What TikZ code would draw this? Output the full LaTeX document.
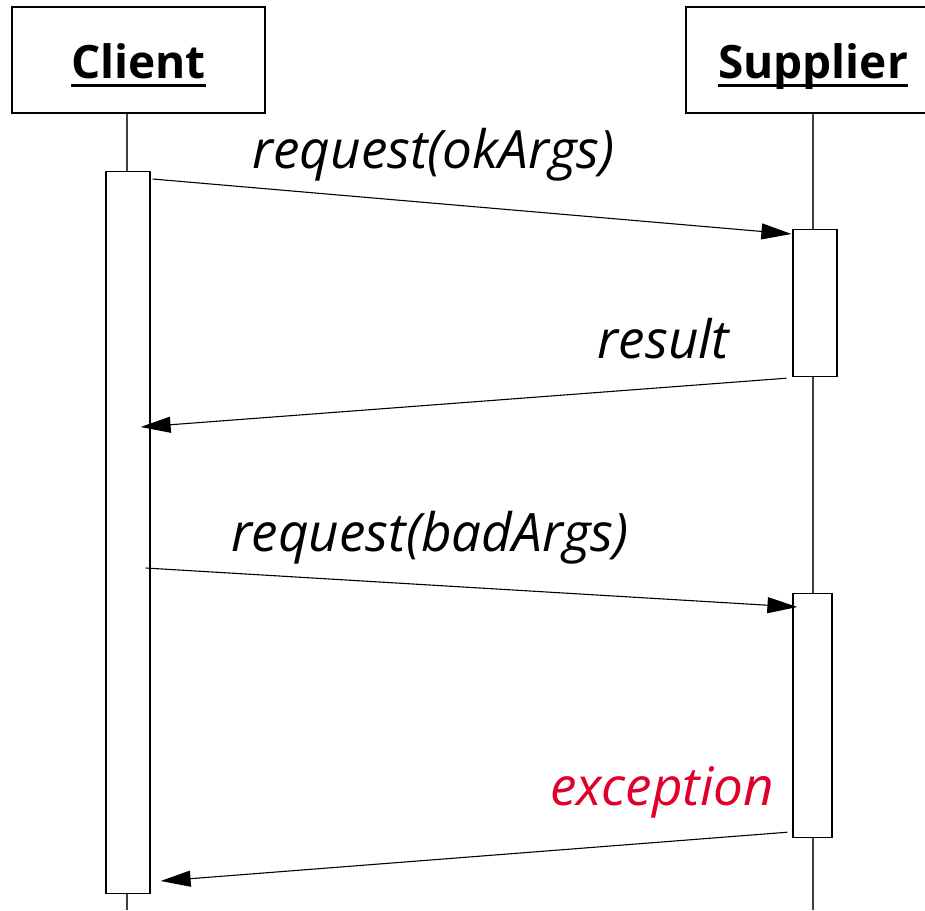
\documentclass[tikz,border=0pt]{standalone}
\usepackage{fontspec}
\setmainfont{Open Sans}
\usepackage{xcolor}
\usetikzlibrary{arrows.meta}

\definecolor{excred}{HTML}{E0002B}

% object name, bold with a heavy underline
\newcommand{\objname}[1]{\setbox0=\hbox{#1}\rlap{\rule[-9pt]{\wd0}{3.5pt}}\box0}

\begin{document}
\begin{tikzpicture}[x=1pt, y=-1pt,
  head/.style={draw, line width=1.2pt, minimum width=253pt, minimum height=106pt, inner sep=0pt,
    text height=36pt, text depth=0pt, font=\bfseries\fontsize{46}{52}\selectfont},
  act/.style={draw, fill=white, line width=1.2pt, minimum width=44pt, inner sep=0pt, anchor=north},
  life/.style={line width=1.2pt, black!75},
  msg/.style={line width=1.1pt, -{Triangle[length=30pt,width=16pt]}},
  lbl/.style={font=\itshape\fontsize{53}{60}\selectfont, inner sep=0pt, anchor=base}
]
\useasboundingbox (0,0) rectangle (925,910);

% objects and lifelines
\node[head] (client) at (138.5,60) {\objname{Client}};
\node[head, minimum width=254pt] (supplier) at (813,60) {\objname{Supplier}};
\coordinate (clientend) at (127,910);
\coordinate (supplierend) at (813,910);
\draw[life] (client.south -| clientend) -- (clientend);
\draw[life] (supplier.south -| supplierend) -- (supplierend);

% activation bars
\node[act, minimum height=722pt] (cact) at (128,171) {};
\node[act, minimum height=147pt] (sact1) at (815,229) {};
\node[act, minimum height=244pt, minimum width=39pt] (sact2) at (812.5,593) {};

% messages
\draw[msg] ([shift={(2,8)}]cact.north east) -- ([shift={(-1,5)}]sact1.north west)
  node[lbl, pos=0.44, yshift=35pt] {request(okArgs)};
\draw[msg] ([shift={(-6,1)}]sact1.south west) -- ([shift={(-10,256)}]cact.north east)
  node[lbl, pos=0.19, yshift=29pt] {result};
\draw[msg] ([shift={(-5,397)}]cact.north east) -- ([shift={(5,14)}]sact2.north west)
  node[lbl, pos=0.436, yshift=34pt] {request(badArgs)};
\draw[msg] ([shift={(-5,-6)}]sact2.south west) -- ([shift={(10,710)}]cact.north east)
  node[lbl, pos=0.2, yshift=36pt, text=excred] {exception};
\end{tikzpicture}
\end{document}
